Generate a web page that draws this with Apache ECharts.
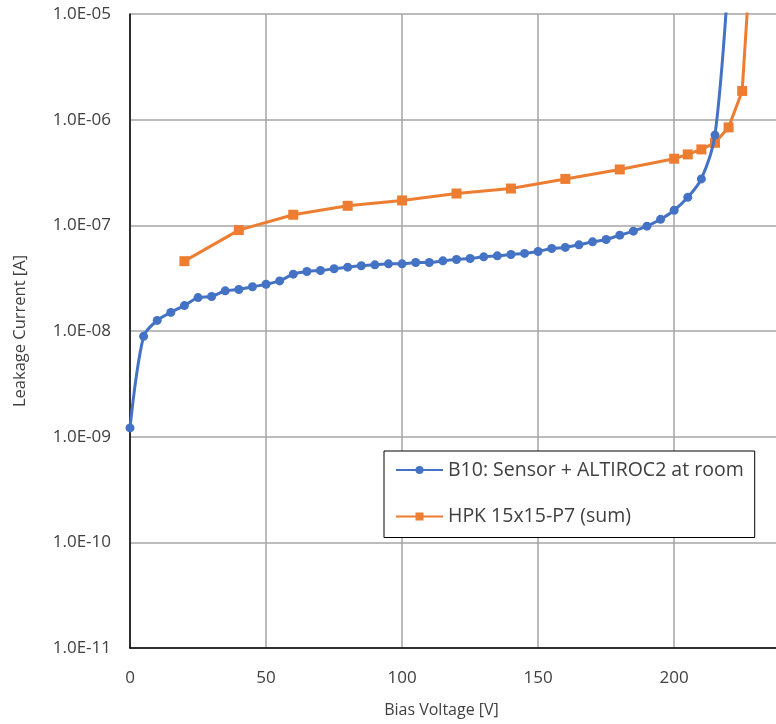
<!DOCTYPE html>
<html>
<head>
<meta charset="utf-8">
<script src="https://cdn.jsdelivr.net/npm/echarts@6/dist/echarts.min.js"></script>
<style>
  html, body { margin: 0; padding: 0; background: #fff; }
  #chart { width: 776px; height: 724px; }
</style>
</head>
<body>
<div id="chart"></div>
<script>
// Bias voltage [V] for the B10 sweep (5 V steps)
const b10Voltage = [0, 5, 10, 15, 20, 25, 30, 35, 40, 45, 50, 55, 60, 65, 70, 75, 80, 85, 90, 95,
  100, 105, 110, 115, 120, 125, 130, 135, 140, 145, 150, 155, 160, 165, 170, 175, 180, 185, 190,
  195, 200, 205, 210, 215, 220];
// Leakage current [A] for B10: Sensor + ALTIROC2 at room temperature
const b10Current = [1.21e-9, 8.9e-9, 1.26e-8, 1.50e-8, 1.74e-8, 2.07e-8, 2.12e-8, 2.40e-8, 2.47e-8,
  2.62e-8, 2.77e-8, 2.98e-8, 3.45e-8, 3.66e-8, 3.74e-8, 3.88e-8, 4.02e-8, 4.14e-8, 4.23e-8, 4.32e-8,
  4.32e-8, 4.45e-8, 4.45e-8, 4.61e-8, 4.75e-8, 4.86e-8, 5.03e-8, 5.14e-8, 5.30e-8, 5.42e-8, 5.66e-8,
  6.04e-8, 6.18e-8, 6.54e-8, 6.98e-8, 7.35e-8, 8.07e-8, 8.81e-8, 9.82e-8, 1.14e-7, 1.39e-7, 1.84e-7,
  2.75e-7, 7.15e-7, 2.4e-5];

// Bias voltage [V] and summed leakage current [A] for HPK 15x15-P7
const hpkVoltage = [20, 40, 60, 80, 100, 120, 140, 160, 180, 200, 205, 210, 215, 220, 225, 230];
const hpkCurrent = [4.58e-8, 9.01e-8, 1.26e-7, 1.53e-7, 1.72e-7, 2.00e-7, 2.23e-7, 2.75e-7, 3.38e-7,
  4.27e-7, 4.69e-7, 5.23e-7, 6.04e-7, 8.45e-7, 1.87e-6, 2.0e-4];

const seriesNames = ['B10: Sensor + ALTIROC2 at room', 'HPK 15x15-P7 (sum)'];
const xTicks = { min: 0, max: 240, step: 50 };
const yRange = { min: 1e-11, max: 1e-5 };

const zip = (xs, ys) => xs.map((x, i) => [x, ys[i]]);

// "1.0E-05" style labels for the decade ticks
function sciLabel(v) {
  const e = Math.round(Math.log10(v));
  const a = Math.abs(e);
  return '1.0E' + (e < 0 ? '-' : '+') + (a < 10 ? '0' + a : a);
}

const FONT = '"Open Sans", "Noto Sans", sans-serif';
const chart = echarts.init(document.getElementById('chart'), null, { renderer: 'canvas' });

chart.setOption({
  animation: false,
  backgroundColor: '#ffffff',
  textStyle: { fontFamily: FONT },
  // plot area runs past the right edge of the canvas
  grid: { left: 130, top: 14, width: 653, height: 634, containLabel: false, outerBoundsMode: 'none' },
  legend: {
    orient: 'vertical',
    left: 384,
    top: 451,
    padding: [9, 11, 11, 11],
    itemGap: 26.5,
    itemWidth: 47,
    itemHeight: 10,
    borderColor: '#000',
    borderWidth: 1,
    backgroundColor: '#fff',
    textStyle: { fontFamily: FONT, fontSize: 19.5, color: '#404040' },
    data: seriesNames
  },
  xAxis: {
    type: 'value',
    min: xTicks.min,
    max: xTicks.max,
    interval: xTicks.step,
    name: 'Bias Voltage [V]',
    nameLocation: 'middle',
    nameGap: 54,
    nameTextStyle: { fontFamily: FONT, fontSize: 16, color: '#404040', padding: [0, 30, 0, 0] },
    axisLine: { show: true, onZero: false, lineStyle: { color: '#000', width: 1.5 } },
    axisTick: { show: false },
    axisLabel: { margin: 22, showMaxLabel: false, fontFamily: FONT, fontSize: 17, color: '#404040' },
    splitLine: { show: true, lineStyle: { color: '#a6a6a6', width: 1.5 } }
  },
  yAxis: {
    type: 'log',
    logBase: 10,
    min: yRange.min,
    max: yRange.max,
    name: 'Leakage Current [A]',
    nameLocation: 'middle',
    nameGap: 101,
    nameTextStyle: { fontFamily: FONT, fontSize: 16.5, color: '#404040' },
    axisLine: { show: true, lineStyle: { color: '#000', width: 1.5 } },
    axisTick: { show: false },
    axisLabel: { margin: 19, fontFamily: FONT, fontSize: 17, color: '#404040', formatter: sciLabel },
    splitLine: { show: true, lineStyle: { color: '#a6a6a6', width: 1.5 } },
    minorTick: { show: false },
    minorSplitLine: { show: false }
  },
  series: [
    {
      name: seriesNames[0],
      type: 'line',
      data: zip(b10Voltage, b10Current),
      smooth: 0.3,
      clip: true,
      symbol: 'circle',
      symbolSize: 9,
      showAllSymbol: true,
      itemStyle: { color: '#4472c4' },
      lineStyle: { color: '#4472c4', width: 3 },
      z: 3
    },
    {
      name: seriesNames[1],
      type: 'line',
      data: zip(hpkVoltage, hpkCurrent),
      clip: true,
      symbol: 'rect',
      symbolSize: 10,
      showAllSymbol: true,
      itemStyle: { color: '#ed7d31' },
      lineStyle: { color: '#ed7d31', width: 3 },
      z: 2
    }
  ]
});
</script>
</body>
</html>
